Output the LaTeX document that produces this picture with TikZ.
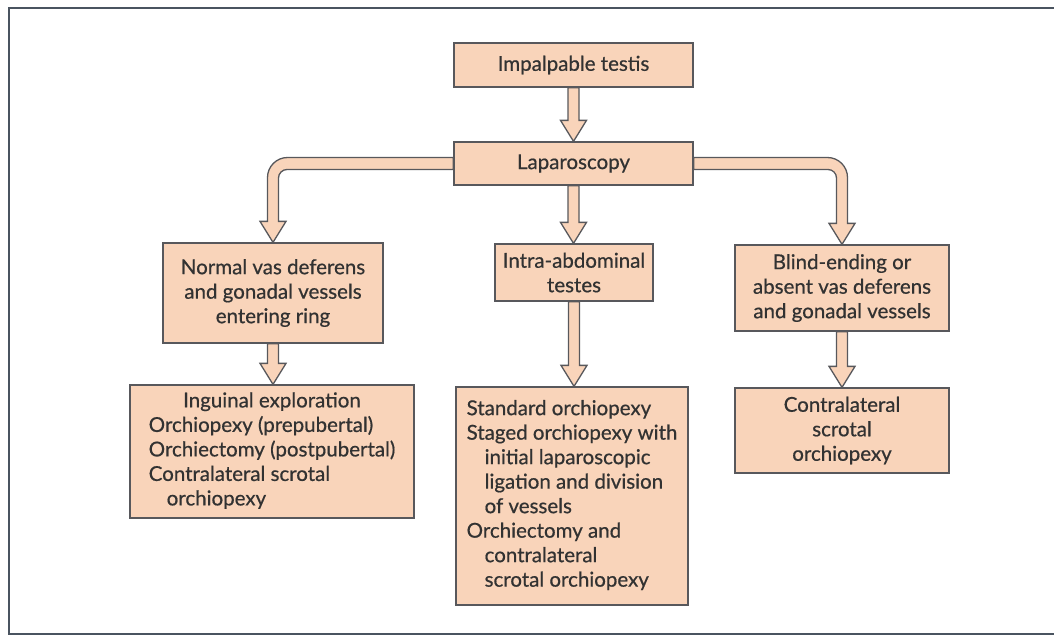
\documentclass[tikz,border=0pt]{standalone}
\usepackage{fontspec}
\setmainfont{Lato}[FakeBold=0.6]
\usetikzlibrary{calc,backgrounds}

\definecolor{boxfill}{RGB}{249,212,186}
\definecolor{boxline}{RGB}{88,88,92}
\definecolor{textcol}{RGB}{50,50,50}
\definecolor{framecol}{RGB}{74,84,96}

\tikzset{
  box/.style={draw=boxline, fill=boxfill, line width=1.3pt, inner sep=0pt,
    text=textcol, font={\fontsize{20.5}{24.5}\selectfont}, align=center},
  arrowbody/.style={draw=boxline, fill=boxfill, line width=1.3pt, line join=miter},
}

% straight block arrow from the bottom of #1 to the top of #2
\newcommand{\blockdown}[2]{%
  \filldraw[arrowbody]
    ($(#1.south)+(-5.5,0)$)
    -- ($(#2.north -| #1.south)+(-5.5,-21)$)
    -- ($(#2.north -| #1.south)+(-13,-21)$)
    -- (#2.north -| #1.south)
    -- ($(#2.north -| #1.south)+(13,-21)$)
    -- ($(#2.north -| #1.south)+(5.5,-21)$)
    -- ($(#1.south)+(5.5,0)$) -- cycle;}

% bent block arrow leaving a side of a box (#1), turning down onto #2; #3 = -1 left, +1 right
\newcommand{\bentarrow}[3]{%
  \coordinate (bc) at (#1 -| #2.north);
  \filldraw[arrowbody]
    ($(#1)+(0,-6)$)
    -- ($(bc)+({#3*(5.5-20)},-6)$)
    .. controls ($(bc)+({#3*(5.5-9)},-6)$) and ($(bc)+({#3*5.5},{-6+9})$)
    .. ($(bc)+({#3*5.5},{-6+20})$)
    -- ($(#2.north)+({#3*5.5},-21)$)
    -- ($(#2.north)+({#3*13},-21)$)
    -- (#2.north)
    -- ($(#2.north)+({-#3*13},-21)$)
    -- ($(#2.north)+({-#3*5.5},-21)$)
    -- ($(bc)+({-#3*5.5},{6+8.5})$)
    .. controls ($(bc)+({-#3*5.5},{6+3.8})$) and ($(bc)+({-#3*(5.5+3.8)},6)$)
    .. ($(bc)+({-#3*(5.5+8.5)},6)$)
    -- ($(#1)+(0,6)$) -- cycle;}

\begin{document}
\begin{tikzpicture}[x=1pt,y=-1pt]
  \useasboundingbox (0,0) rectangle (1054,637);

  % outer frame, open on the right
  \draw[framecol, line width=2pt] (1060,8) -- (9,8) -- (9,634) -- (1060,634);

  \node[box, minimum width=239, minimum height=44] (imp) at (573.5,65) {Impalpable testis};
  \node[box, minimum width=239, minimum height=43] (lap) at (573.5,163.5) {Laparoscopy};

  \node[box, minimum width=220, minimum height=100] (nv) at (273,293)
    {Normal vas deferens\\and gonadal vessels\\entering ring};
  \node[box, minimum width=158, minimum height=57] (ia) at (574,272.5)
    {Intra-abdominal\\testes};
  \node[box, minimum width=214, minimum height=86] (be) at (842,288)
    {Blind-ending or\\absent vas deferens\\and gonadal vessels};

  \node[box, minimum width=284, minimum height=133] (ie) at (272,451.5)
    {\begin{tabular}{@{}l@{}}
      \multicolumn{1}{@{}c@{}}{Inguinal exploration}\\
      Orchiopexy (prepubertal)\\
      Orchiectomy (postpubertal)\\
      Contralateral scrotal\\
      \hspace{18pt}orchiopexy
    \end{tabular}};
  \node[box, minimum width=232, minimum height=218] (so) at (572,496)
    {\begin{tabular}{@{}l@{}}
      Standard orchiopexy\\
      Staged orchiopexy with\\
      \hspace{18pt}initial laparoscopic\\
      \hspace{18pt}ligation and division\\
      \hspace{18pt}of vessels\\
      Orchiectomy and\\
      \hspace{18pt}contralateral\\
      \hspace{18pt}scrotal orchiopexy
    \end{tabular}};
  \node[box, minimum width=214, minimum height=85] (co) at (842,430.5)
    {Contralateral\\scrotal\\orchiopexy};

  % connectors sit behind the boxes so the box borders cap their ends
  \begin{scope}[on background layer]
    \fill[white] (0,0) rectangle (1054,637);
    \blockdown{imp}{lap}
    \blockdown{lap}{ia}
    \bentarrow{lap.west}{nv}{-1}
    \bentarrow{lap.east}{be}{1}
    \blockdown{nv}{ie}
    \blockdown{ia}{so}
    \blockdown{be}{co}
  \end{scope}
\end{tikzpicture}
\end{document}
